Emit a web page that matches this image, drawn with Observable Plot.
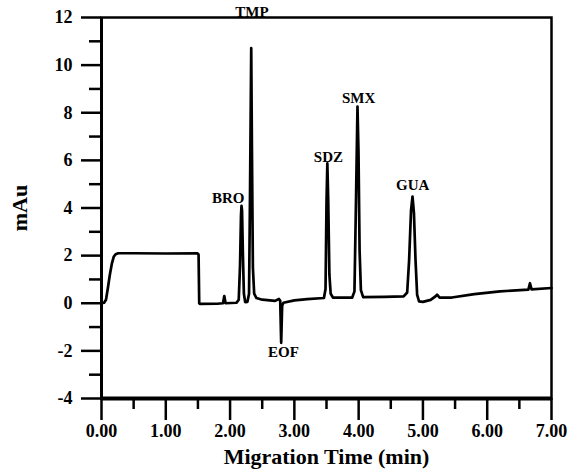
<!DOCTYPE html>
<html><head><meta charset="utf-8">
<script src="https://cdn.jsdelivr.net/npm/d3@7"></script>
<script src="https://cdn.jsdelivr.net/npm/@observablehq/plot@0.6"></script>
<style>body{margin:0;background:#fff}</style>
</head><body><div id="chart"></div>
<script>
// Electropherogram trace (migration time in min, absorbance in mAu)
const time = [0.00,0.04,0.07,0.10,0.13,0.16,0.19,0.22,0.26,0.50,1.00,1.49,1.51,1.52,1.53,1.80,1.89,1.91,1.93,
  2.10,2.135,2.155,2.170,2.178,2.186,2.200,2.215,2.235,2.27,2.295,2.31,2.329,2.34,2.355,2.375,2.41,2.50,2.70,2.76,2.78,2.795,2.81,2.83,
  3.00,3.20,3.46,3.485,3.50,3.513,3.527,3.545,3.565,3.60,3.90,3.935,3.96,3.982,3.998,4.015,4.035,4.07,4.40,4.70,
  4.755,4.785,4.815,4.838,4.86,4.885,4.91,4.94,5.00,5.12,5.20,5.22,5.26,5.45,5.80,6.20,6.64,6.665,6.69,7.00];
const absorbance = [0.00,0.02,0.15,0.65,1.20,1.65,1.95,2.06,2.10,2.10,2.09,2.10,2.05,0.00,-0.03,-0.02,0.00,0.30,0.00,
  0.02,0.15,1.6,3.7,4.09,3.9,2.0,0.4,0.05,0.06,0.4,4.5,10.71,6.5,1.5,0.4,0.22,0.15,0.10,0.18,0.10,-1.66,-0.10,0.02,
  0.12,0.17,0.22,0.6,4.2,5.88,4.3,1.2,0.4,0.24,0.24,0.5,4.5,8.26,6.3,2.2,0.55,0.26,0.27,0.29,
  0.45,1.8,3.9,4.48,3.8,1.8,0.35,0.08,0.06,0.14,0.30,0.36,0.24,0.24,0.38,0.50,0.57,0.84,0.58,0.64];

// Peak annotations
const peakNames = ["BRO","TMP","EOF","SDZ","SMX","GUA"];
const labelTime = [1.97,2.34,2.83,3.53,4.00,4.84];
const labelMAu  = [4.43,12.23,-2.07,6.15,8.62,4.97];

// Ticks
const xMajor = [0,1,2,3,4,5,6,7];
const xMinor = [0.5,1.5,2.5,3.5,4.5,5.5,6.5];
const yMajor = [-4,-2,0,2,4,6,8,10,12];
const yMinor = [-3,-1,1,3,5,7,9,11];

const font = "Liberation Serif, Times New Roman, serif";

const chart = Plot.plot({
  width: 571,
  height: 473,
  marginLeft: 101,
  marginRight: 20,
  marginTop: 17,
  marginBottom: 75,
  style: {fontFamily: font, fontWeight: "bold", color: "black", background: "white"},
  x: {domain: [0, 7]},
  y: {domain: [-4, 12]},
  marks: [
    Plot.frame({strokeWidth: 2.5}),
    Plot.ruleY([-4], {strokeWidth: 4}),
    Plot.ruleX([0], {strokeWidth: 3}),
    Plot.axisY(yMajor, {tickSize: 20, tickPadding: 9, fontSize: 18, strokeWidth: 2.5, label: null, tickFormat: d => `${d}`}),
    Plot.axisY(yMinor, {tickSize: 12, strokeWidth: 2.5, label: null, tickFormat: () => ""}),
    Plot.axisX(xMajor, {tickSize: 22, tickPadding: 4, fontSize: 18, strokeWidth: 2.5, label: null, tickFormat: d3.format(".2f")}),
    Plot.axisX(xMinor, {tickSize: 11, strokeWidth: 2.5, label: null, tickFormat: () => ""}),
    Plot.line(time, {x: time, y: absorbance, stroke: "black", strokeWidth: 2.7}),
    Plot.text(peakNames, {x: labelTime, y: labelMAu, text: d => d, fontSize: 15, fontWeight: "bold"}),
    Plot.text(["mAu"], {frameAnchor: "left", dx: -82, rotate: -90, textAnchor: "middle", lineAnchor: "middle", fontSize: 22, fontWeight: "bold"}),
    Plot.text(["Migration Time (min)"], {frameAnchor: "bottom", dy: 58, textAnchor: "middle", lineAnchor: "middle", fontSize: 22, fontWeight: "bold"})
  ]
});
document.getElementById("chart").appendChild(chart);
</script>
</body></html>
